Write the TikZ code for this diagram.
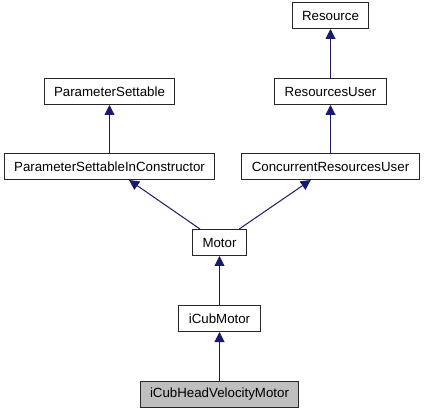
\documentclass[tikz,border=0pt]{standalone}
\usepackage{fontspec}
\setmainfont{Liberation Sans}
\usetikzlibrary{arrows.meta,positioning}
\definecolor{edgeblue}{RGB}{25,25,112}
\definecolor{curgray}{RGB}{191,191,191}

\begin{document}
\begin{tikzpicture}[>={Triangle[length=10pt,width=10pt]}]
        \tikzset{cls/.style= {draw=black!85, rectangle, align=center, line width=1pt,
                 inner xsep=10pt, minimum height=26pt, font=\fontsize{13.3}{16}\selectfont},
        curcls/.style= {cls, fill=curgray},
        inh/.style={draw=edgeblue, line width=1pt, <-, fill=edgeblue},
        node distance=49pt
        }
        \useasboundingbox (0pt,0pt) rectangle (425pt,-411pt);

        \node [cls] (motor) at (219.5pt,-242.5pt) {Motor};
        \node [cls, below=49pt of motor] (icub) {iCubMotor};
        \node [curcls, below=49pt of icub] (head) {iCubHeadVelocityMotor};

        \node [cls, above=49pt of motor, xshift=-110pt] (psic) {ParameterSettableInConstructor};
        \node [cls, above=48pt of psic] (ps) {ParameterSettable};

        \node [cls, above=49pt of motor, xshift=111pt] (cru) {ConcurrentResourcesUser};
        \node [cls, above=48pt of cru] (ru) {ResourcesUser};
        \node [cls, above=49pt of ru] (res) {Resource};

%%% paths
        \path[inh] (res) edge (ru)
                   (ru) edge (cru)
                   (ps) edge (psic)
                   (psic) edge (motor)
                   (cru) edge (motor)
                   (motor) edge (icub)
                   (icub) edge (head)
                   ;
\end{tikzpicture}
\end{document}
